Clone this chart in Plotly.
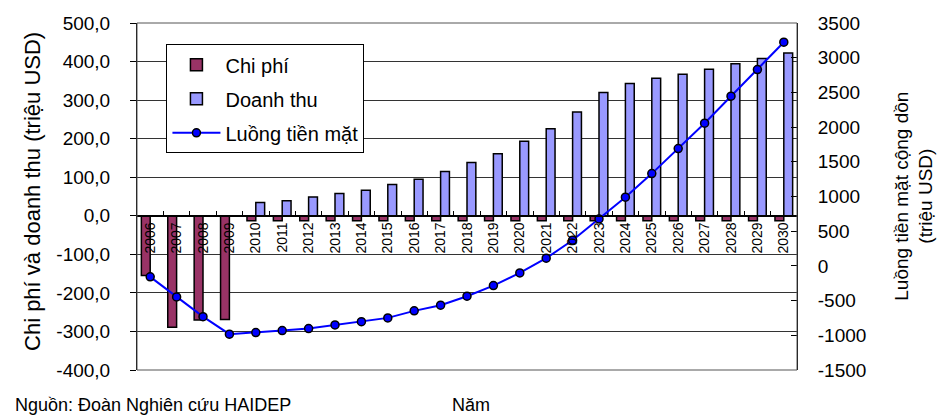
import plotly.graph_objects as go

# Years on the category axis
years = [str(y) for y in range(2006, 2031)]

# Costs and revenue (million USD, left axis)
chi_phi = [-155, -289, -270, -269] + [-13] * 21
doanh_thu = [None, None, None, None,
             34.5, 38.7, 49, 58, 66, 81, 95, 115, 138, 161, 193, 226,
             269, 320, 343, 357, 367, 380, 394, 408, 422]

# Cumulative cash flow (million USD, right axis)
luong_tien = [-158, -447, -731, -984, -961, -932, -903, -850, -803, -749,
              -648, -566, -437, -284, -101, 111, 370, 677, 990, 1330,
              1690, 2056, 2445, 2829, 3223]

# Axis ticks
left_ticks = [-400, -300, -200, -100, 0, 100, 200, 300, 400, 500]
left_ticktext = [f"{v:.1f}".replace(".", ",") for v in left_ticks]
right_ticks = [-1500, -1000, -500, 0, 500, 1000, 1500, 2000, 2500, 3000, 3500]
right_ticktext = [str(v) for v in right_ticks]

FONT = "Liberation Sans, Arial, sans-serif"

fig = go.Figure()
fig.add_trace(go.Bar(
    x=years, y=chi_phi, name="Chi phí", legendgroup="a",
    marker=dict(color="#993366", line=dict(color="black", width=1.5)),
))
fig.add_trace(go.Bar(
    x=years, y=doanh_thu, name="Doanh thu", legendgroup="b",
    marker=dict(color="#9999FF", line=dict(color="black", width=1.5)),
))
fig.add_trace(go.Scatter(
    x=years, y=luong_tien, name="Luồng tiền mặt", legendgroup="c",
    yaxis="y2", mode="lines+markers",
    line=dict(color="#0000FF", width=2),
    marker=dict(color="#0000FF", size=8, line=dict(color="black", width=1.5)),
))

fig.update_layout(
    width=941, height=417,
    margin=dict(l=137, r=144, t=23, b=47),
    plot_bgcolor="white", paper_bgcolor="white",
    font=dict(family=FONT, size=19, color="black"),
    barmode="group", bargap=0.33, bargroupgap=0,
    xaxis=dict(
        type="category", categoryorder="array", categoryarray=years,
        range=[-0.5, len(years) - 0.5], autorange=False,
        anchor="free", position=400 / 900,
        showline=True, linecolor="black", linewidth=1,
        ticks="inside", ticklen=5, tickcolor="black", tickson="boundaries",
        tickangle=-90, tickfont=dict(size=14),
        showgrid=False, zeroline=False,
    ),
    yaxis=dict(
        range=[-400, 500], tickvals=left_ticks, ticktext=left_ticktext,
        ticks="outside", ticklen=6, tickcolor="black",
        showline=True, linecolor="black", linewidth=1,
        showgrid=True, gridcolor="#333333", gridwidth=1,
        zeroline=True, zerolinecolor="black", zerolinewidth=1,
        ticklabelstandoff=16,
    ),
    yaxis2=dict(
        overlaying="y", side="right",
        range=[-1500, 3500], tickvals=right_ticks, ticktext=right_ticktext,
        ticks="inside", ticklen=6, tickcolor="black",
        showline=True, linecolor="black", linewidth=1,
        showgrid=False, zeroline=False,
        ticklabelstandoff=16,
    ),
    legend=dict(
        x=0.0446, y=0.9387, xanchor="left", yanchor="top",
        bgcolor="white", bordercolor="black", borderwidth=1,
        font=dict(size=20), traceorder="grouped", tracegroupgap=5,
        itemwidth=48,
    ),
    shapes=[dict(type="rect", xref="paper", yref="paper", x0=0, x1=1, y0=0, y1=1,
                 line=dict(color="#555555", width=1), layer="above")],
    annotations=[
        dict(text="Chi phí và doanh thu (triệu USD)", textangle=-90,
             xref="paper", yref="paper", x=-0.18, y=0.515,
             showarrow=False, font=dict(size=22)),
        dict(text="Luồng tiền mặt cộng dồn<br>(triệu USD)", textangle=-90,
             xref="paper", yref="paper", x=1.214, y=0.50,
             showarrow=False, font=dict(size=19)),
        dict(text="Năm", xref="paper", yref="paper", x=0.506, y=-0.135,
             xanchor="center", yanchor="bottom", showarrow=False, font=dict(size=18)),
        dict(text="Nguồn: Đoàn Nghiên cứu HAIDEP", xref="paper", yref="paper",
             x=-0.188, y=-0.135, xanchor="left", yanchor="bottom",
             showarrow=False, font=dict(size=18)),
    ],
)

fig.write_html("out.html")
